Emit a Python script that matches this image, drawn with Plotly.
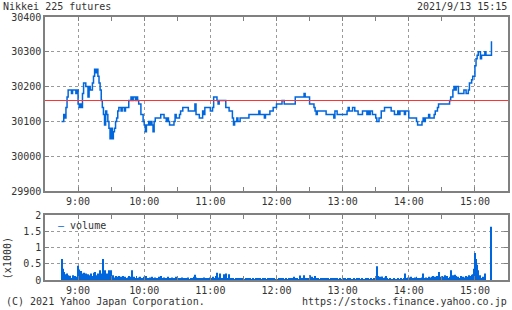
import plotly.graph_objects as go
import pandas as pd

DAY = "2021-09-13 "
TITLE = "Nikkei 225 futures"
STAMP = "2021/9/13 15:15"
COPYRIGHT = "(C) 2021 Yahoo Japan Corporation."
SOURCE = "https://stocks.finance.yahoo.co.jp"
VOL_LABEL = "volume"
VOL_UNIT = "(x1000)"
prev_close = 30160

price_times = [
    "08:45", "08:47", "08:48", "08:49", "08:50", "08:51", "08:54", "08:55", "08:58", "08:59",
    "09:00", "09:01", "09:02", "09:03", "09:04", "09:05", "09:07", "09:09", "09:10", "09:11",
    "09:13", "09:14", "09:15", "09:16", "09:17", "09:18", "09:19", "09:20", "09:21", "09:22",
    "09:23", "09:24", "09:25", "09:26", "09:27", "09:28", "09:29", "09:30", "09:31", "09:32",
    "09:33", "09:34", "09:35", "09:36", "09:37", "09:39", "09:40", "09:42", "09:43", "09:46",
    "09:48", "09:49", "09:50", "09:52", "09:53", "09:54", "09:55", "09:57", "09:59",
    "10:00", "10:01", "10:02", "10:04", "10:05", "10:06", "10:07", "10:08", "10:09", "10:10",
    "10:15", "10:18", "10:20", "10:21", "10:22", "10:23", "10:27", "10:28", "10:29", "10:32",
    "10:33", "10:35", "10:40", "10:41", "10:46", "10:47", "10:50", "10:53", "10:54", "10:55",
    "11:00", "11:02", "11:03", "11:06", "11:07", "11:08", "11:14", "11:15", "11:17", "11:20",
    "11:21", "11:22", "11:24", "11:25", "11:27", "11:35", "11:44", "11:45", "11:49", "11:50",
    "11:54", "11:57",
    "12:00", "12:05", "12:07", "12:17", "12:25", "12:26", "12:30", "12:34", "12:35", "12:36",
    "12:37", "12:45", "12:52", "12:53", "12:55",
    "13:04", "13:05", "13:06", "13:09", "13:11", "13:14", "13:18", "13:22", "13:23", "13:24",
    "13:25", "13:27", "13:30", "13:31", "13:33", "13:35", "13:38", "13:44", "13:47", "13:50",
    "13:51", "13:52", "13:56", "13:57",
    "14:00", "14:07", "14:08", "14:12", "14:13", "14:14", "14:15", "14:18", "14:19", "14:23",
    "14:24", "14:26", "14:27", "14:37", "14:38", "14:40", "14:41", "14:42", "14:43", "14:45",
    "14:50", "14:52", "14:54", "14:55", "14:57", "14:58",
    "15:00", "15:01", "15:02", "15:03", "15:05", "15:06", "15:09", "15:10", "15:15",
]
price_values = [
    30100, 30120, 30110, 30140, 30170, 30190, 30180, 30190, 30180, 30190,
    30150, 30140, 30150, 30140, 30180, 30210, 30200, 30170, 30200, 30190,
    30210, 30230, 30250, 30240, 30250, 30230, 30210, 30190, 30160, 30140,
    30120, 30090, 30130, 30120, 30100, 30080, 30050, 30080, 30050, 30070,
    30080, 30100, 30110, 30130, 30140, 30130, 30140, 30130, 30140, 30160,
    30170, 30160, 30170, 30160, 30170, 30160, 30150, 30120, 30100,
    30090, 30070, 30090, 30100, 30090, 30100, 30090, 30070, 30100, 30110,
    30120, 30110, 30100, 30110, 30100, 30090, 30100, 30120, 30110, 30120,
    30130, 30140, 30130, 30130, 30150, 30120, 30110, 30130, 30120, 30140,
    30130, 30140, 30170, 30160, 30150, 30160, 30140, 30140, 30130, 30110,
    30090, 30100, 30110, 30100, 30110, 30120, 30130, 30120, 30110, 30120,
    30130, 30140,
    30150, 30160, 30150, 30170, 30180, 30170, 30150, 30140, 30130, 30120,
    30130, 30120, 30110, 30130, 30120,
    30130, 30140, 30130, 30140, 30130, 30120, 30130, 30120, 30130, 30120,
    30130, 30120, 30110, 30100, 30110, 30130, 30140, 30130, 30120, 30130,
    30120, 30130, 30120, 30130,
    30110, 30100, 30090, 30100, 30110, 30100, 30110, 30120, 30110, 30120,
    30130, 30140, 30150, 30160, 30170, 30190, 30200, 30190, 30200, 30180,
    30190, 30180, 30190, 30210, 30220, 30230,
    30260, 30280, 30290, 30300, 30280, 30290, 30300, 30290, 30330,
]

# volume per minute (x1000), 08:45 .. 15:15
vol_0845 = [0.65, 0.35, 0.25, 0.18, 0.12, 0.2, 0.15, 0.1, 0.13, 0.05, 0.15, 0.06, 0.12, 0.08, 0.1]
vol_0900 = [0.44, 0.32, 0.15, 0.28, 0.2, 0.22, 0.12, 0.2, 0.1, 0.18,
            0.15, 0.1, 0.2, 0.12, 0.22, 0.25, 0.15, 0.1, 0.2, 0.12,
            0.3, 0.18, 0.2, 0.65, 0.3, 0.15, 0.2, 0.12, 0.3, 0.18,
            0.3, 0.1, 0.15, 0.08, 0.12, 0.1, 0.08, 0.12, 0.05, 0.1,
            0.08, 0.12, 0.06, 0.1, 0.05, 0.08, 0.12, 0.06, 0.1, 0.3,
            0.08, 0.1, 0.05, 0.12, 0.06, 0.08, 0.1, 0.05, 0.06, 0.04]
vol_1000 = [0.1, 0.08, 0.12, 0.05, 0.06, 0.08, 0.04, 0.1, 0.06, 0.05,
            0.08, 0.04, 0.06, 0.1, 0.05, 0.12, 0.06, 0.04, 0.08, 0.05,
            0.03, 0.06, 0.1, 0.04, 0.05, 0.08, 0.03, 0.06, 0.04, 0.1,
            0.05, 0.03, 0.06, 0.04, 0.08, 0.05, 0.03, 0.06, 0.04, 0.05,
            0.08, 0.03, 0.05, 0.06, 0.04, 0.1, 0.16, 0.08, 0.05, 0.03,
            0.06, 0.04, 0.05, 0.03, 0.08, 0.04, 0.06, 0.03, 0.05, 0.04]
vol_1100 = [0.08, 0.05, 0.1, 0.06, 0.04, 0.12, 0.22, 0.05, 0.08, 0.2,
            0.06, 0.04, 0.18, 0.05, 0.2, 0.06, 0.04, 0.18, 0.05, 0.03,
            0.06, 0.04, 0.03, 0.05, 0.02, 0.04, 0.06, 0.03, 0.05, 0.02,
            0.04, 0.03, 0.06, 0.02, 0.04, 0.03, 0.05, 0.02, 0.03, 0.04,
            0.02, 0.05, 0.03, 0.04, 0.02, 0.06, 0.03, 0.02, 0.04, 0.03,
            0.05, 0.02, 0.04, 0.03, 0.06, 0.02, 0.04, 0.03, 0.05, 0.03]
vol_1200 = [0.04, 0.02, 0.05, 0.03, 0.06, 0.02, 0.04, 0.03, 0.02, 0.05,
            0.03, 0.04, 0.02, 0.06, 0.03, 0.05, 0.1, 0.03, 0.04, 0.06,
            0.02, 0.14, 0.04, 0.03, 0.05, 0.15, 0.04, 0.03, 0.06, 0.05,
            0.15, 0.04, 0.1, 0.05, 0.03, 0.12, 0.04, 0.02, 0.06, 0.03,
            0.05, 0.02, 0.04, 0.06, 0.03, 0.05, 0.02, 0.04, 0.03, 0.06,
            0.02, 0.04, 0.03, 0.05, 0.02, 0.04, 0.03, 0.02, 0.05, 0.03]
vol_1300 = [0.04, 0.02, 0.05, 0.03, 0.02, 0.04, 0.03, 0.05, 0.02, 0.03,
            0.04, 0.02, 0.03, 0.05, 0.02, 0.04, 0.03, 0.02, 0.05, 0.03,
            0.02, 0.04, 0.03, 0.05, 0.02, 0.03, 0.04, 0.02, 0.05, 0.03,
            0.06, 0.42, 0.12, 0.08, 0.1, 0.06, 0.11, 0.05, 0.08, 0.12,
            0.04, 0.03, 0.02, 0.04, 0.03, 0.02, 0.03, 0.04, 0.02, 0.03,
            0.05, 0.02, 0.03, 0.04, 0.02, 0.03, 0.05, 0.2, 0.06, 0.08]
vol_1400 = [0.08, 0.05, 0.1, 0.04, 0.06, 0.03, 0.08, 0.1, 0.04, 0.06,
            0.05, 0.03, 0.08, 0.2, 0.06, 0.04, 0.08, 0.05, 0.1, 0.06,
            0.08, 0.1, 0.12, 0.08, 0.1, 0.06, 0.12, 0.25, 0.1, 0.08,
            0.12, 0.06, 0.1, 0.15, 0.08, 0.12, 0.06, 0.1, 0.3, 0.12,
            0.15, 0.1, 0.16, 0.12, 0.08, 0.1, 0.06, 0.12, 0.08, 0.1,
            0.06, 0.08, 0.12, 0.1, 0.08, 0.15, 0.12, 0.16, 0.18, 0.35]
vol_1500 = [0.83, 0.65, 0.47, 0.3, 0.12, 0.15, 0.05, 0.1, 0.04, 0.2, 0, 0, 0, 0, 0, 1.64]

volumes = vol_0845 + vol_0900 + vol_1000 + vol_1100 + vol_1200 + vol_1300 + vol_1400 + vol_1500
vol_times = pd.date_range(DAY + "08:45", DAY + "15:15", freq="min")

FONT = "DejaVu Sans Mono"
BLUE = "#0066dd"
RED = "#ff3333"
AXIS = "#808080"
GRID = "#9a9a9a"
TEXT = "#333333"

W, H = 512, 310
L, R, T, B = 45, 2, 17, 30
PW, PH = W - L - R, H - T - B


def px(x):
    return (x - L) / PW


def py(y):
    return (H - B - y) / PH


fig = go.Figure()
fig.add_trace(go.Scatter(
    x=[DAY + t for t in price_times], y=price_values, mode="lines",
    line=dict(color=BLUE, width=1.5, shape="hv"),
    xaxis="x", yaxis="y", showlegend=False, hoverinfo="skip"))
fig.add_trace(go.Bar(
    x=vol_times, y=volumes, marker=dict(color=BLUE, line_width=0),
    xaxis="x2", yaxis="y2", showlegend=False, hoverinfo="skip"))

xrange = [DAY + "08:30", DAY + "15:30"]
common_x = dict(
    type="date", range=xrange, tick0=DAY + "09:00", dtick=3600000,
    tickformat="%-H:%M", showgrid=True, gridcolor=GRID, griddash="3px,3px",
    gridwidth=1, showline=True, linecolor=AXIS, linewidth=1.5, mirror="ticks",
    ticks="inside", ticklen=4, tickcolor=AXIS, tickwidth=1, zeroline=False,
    minor=dict(dtick=1800000, tick0=DAY + "09:00", ticks="inside", ticklen=4,
               tickcolor=AXIS, tickwidth=1, showgrid=False,
               gridcolor="rgba(0,0,0,0)", gridwidth=0),
    tickfont=dict(family=FONT, size=10, color=TEXT),
)
common_y = dict(
    showgrid=True, gridcolor=GRID, griddash="3px,3px", gridwidth=1,
    showline=True, linecolor=AXIS, linewidth=1.5, mirror="ticks",
    ticks="inside", ticklen=4, tickcolor=AXIS, tickwidth=1, zeroline=False,
    tickfont=dict(family=FONT, size=10, color=TEXT),
)

y_split_top = py(191)
y_vol_top = py(215)

fig.update_layout(
    width=W, height=H, margin=dict(l=L, r=R, t=T, b=B),
    paper_bgcolor="white", plot_bgcolor="white", bargap=0.1,
    xaxis=dict(domain=[0, 1], anchor="y", **common_x),
    yaxis=dict(domain=[y_split_top, 1], anchor="x", range=[29900, 30400], dtick=100,
               tickformat="d", **common_y),
    xaxis2=dict(domain=[0, 1], anchor="y2", **common_x),
    yaxis2=dict(domain=[0, y_vol_top], anchor="x2", range=[0, 2], dtick=0.5, **common_y),
    shapes=[dict(type="line", xref="x domain", x0=0, x1=1, yref="y",
                 y0=prev_close, y1=prev_close, line=dict(color=RED, width=1.2))],
)

f = dict(family=FONT, size=10, color=TEXT)
annots = [
    dict(text=TITLE, x=px(1), y=py(7), xanchor="left", yanchor="middle"),
    dict(text=STAMP, x=px(511), y=py(7), xanchor="right", yanchor="middle"),
    dict(text=COPYRIGHT, x=px(4), y=py(301), xanchor="left", yanchor="middle"),
    dict(text=SOURCE, x=px(511), y=py(301), xanchor="right", yanchor="middle"),
    dict(text=VOL_UNIT, x=px(7), y=py(258), xanchor="center", yanchor="middle", textangle=-90),
    dict(text=f'<span style="color:{BLUE}">\u2014</span> {VOL_LABEL}', x=px(56), y=py(225),
         xanchor="left", yanchor="middle"),
]
for a in annots:
    fig.add_annotation(xref="paper", yref="paper", showarrow=False, font=f, **a)

fig.write_html("out.html")
